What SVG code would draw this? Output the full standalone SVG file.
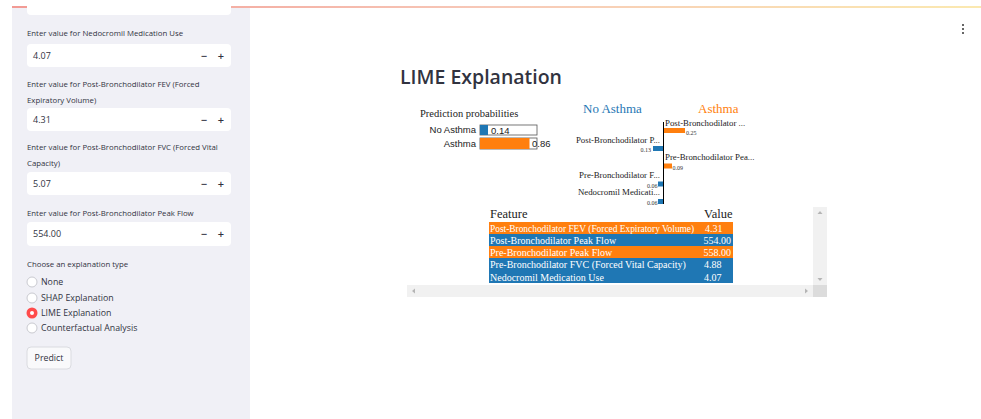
<svg xmlns="http://www.w3.org/2000/svg" width="981" height="419" viewBox="0 0 981 419">
<defs>
<linearGradient id="topbar" x1="0" y1="0" x2="1" y2="0">
<stop offset="0" stop-color="#f29a94"/>
<stop offset="0.5" stop-color="#f7c9b8"/>
<stop offset="1" stop-color="#fbe9b0"/>
</linearGradient>
<style>
.lbl{font-family:"Open Sans","Noto Sans",sans-serif;font-size:7.8px;fill:#31333f}
.val{font-family:"Open Sans","Noto Sans",sans-serif;font-size:9px;fill:#31333f}
.pm{font-family:"Open Sans","Noto Sans",sans-serif;font-size:11px;fill:#31333f;font-weight:600}
.box{fill:#ffffff;stroke:none}
.rad{font-family:"Open Sans","Noto Sans",sans-serif;font-size:8.8px;fill:#31333f}
.circ{fill:#ffffff;stroke:#c9cad0;stroke-width:1}
.ser{font-family:"Liberation Serif","Times New Roman",serif;fill:#222}
.tw{font-family:"Liberation Serif","Times New Roman",serif;font-size:10px;fill:#ffffff}
.tw2{font-family:"Liberation Serif","Times New Roman",serif;font-size:9.4px;fill:#ffffff}
.small{font-family:"Liberation Serif","Times New Roman",serif;font-size:6px;fill:#333}
.feat{font-family:"Liberation Serif","Times New Roman",serif;font-size:8.8px;fill:#222}
.blue{fill:#1f77b4}
.orange{fill:#ff7f0e}
</style>
</defs>
<rect x="0" y="0" width="981" height="419" fill="#ffffff"/>
<!-- sidebar -->
<g id="sidebar">
<rect x="12" y="8" width="238" height="411" fill="#f0f0f6"/>
<rect x="12" y="6" width="969" height="2" fill="url(#topbar)"/>
<rect class="box" x="27" y="-6" width="204" height="21" rx="4"/>
<text class="lbl" x="27" y="36">Enter value for Nedocromil Medication Use</text>
<rect class="box" x="27" y="44" width="204" height="23" rx="4"/>
<text class="val" x="33" y="59">4.07</text>
<text class="pm" x="204" y="60" text-anchor="middle">−</text>
<text class="pm" x="221" y="60" text-anchor="middle">+</text>
<text class="lbl" x="27" y="87">Enter value for Post-Bronchodilator FEV (Forced</text>
<text class="lbl" x="27" y="103">Expiratory Volume)</text>
<rect class="box" x="27" y="108" width="204" height="23" rx="4"/>
<text class="val" x="33" y="123">4.31</text>
<text class="pm" x="204" y="124" text-anchor="middle">−</text>
<text class="pm" x="221" y="124" text-anchor="middle">+</text>
<text class="lbl" x="27" y="150">Enter value for Post-Bronchodilator FVC (Forced Vital</text>
<text class="lbl" x="27" y="166">Capacity)</text>
<rect class="box" x="27" y="172" width="204" height="23" rx="4"/>
<text class="val" x="33" y="187">5.07</text>
<text class="pm" x="204" y="188" text-anchor="middle">−</text>
<text class="pm" x="221" y="188" text-anchor="middle">+</text>
<text class="lbl" x="27" y="216">Enter value for Post-Bronchodilator Peak Flow</text>
<rect class="box" x="27" y="222" width="204" height="24" rx="4"/>
<text class="val" x="33" y="237">554.00</text>
<text class="pm" x="204" y="238" text-anchor="middle">−</text>
<text class="pm" x="221" y="238" text-anchor="middle">+</text>
<text class="lbl" x="27" y="267">Choose an explanation type</text>
<circle class="circ" cx="32" cy="282" r="5"/>
<text class="rad" x="41" y="285">None</text>
<circle class="circ" cx="32" cy="298" r="5"/>
<text class="rad" x="41" y="301">SHAP Explanation</text>
<circle cx="32" cy="313" r="5.5" fill="#ff4b4b"/>
<circle cx="32" cy="313" r="2" fill="#ffffff"/>
<text class="rad" x="41" y="316">LIME Explanation</text>
<circle class="circ" cx="32" cy="328" r="5"/>
<text class="rad" x="41" y="331">Counterfactual Analysis</text>
<rect x="27" y="347" width="44" height="22" rx="4" fill="#f9f9fb" stroke="#dadbe0" stroke-width="1"/>
<text class="rad" x="49" y="361" text-anchor="middle">Predict</text>
</g>
<!-- menu -->
<g id="menu" fill="#333">
<circle cx="963" cy="25" r="1"/>
<circle cx="963" cy="29" r="1"/>
<circle cx="963" cy="33" r="1"/>
</g>
<g id="title">
<text x="400" y="84" font-family="'Open Sans','Noto Sans',sans-serif" font-size="19.5px" font-weight="600" fill="#31333f" textLength="162" lengthAdjust="spacingAndGlyphs">LIME Explanation</text>
</g>
<!-- prediction probabilities -->
<g id="pred-probs">
<text class="ser" x="420" y="117" font-size="10.5px">Prediction probabilities</text>
<text x="476" y="133" text-anchor="end" font-family="'Liberation Sans',Arial,sans-serif" font-size="9.5px" fill="#222">No Asthma</text>
<rect x="480" y="125" width="57" height="10" fill="#fff" stroke="#555" stroke-width="0.8"/>
<rect x="480" y="125" width="8" height="10" class="blue"/>
<text x="491" y="133.5" font-family="'Liberation Sans',Arial,sans-serif" font-size="9.5px" fill="#222">0.14</text>
<text x="476" y="147" text-anchor="end" font-family="'Liberation Sans',Arial,sans-serif" font-size="9.5px" fill="#222">Asthma</text>
<rect x="480" y="138" width="57" height="11" fill="#fff" stroke="#555" stroke-width="0.8"/>
<rect x="480" y="138" width="49.5" height="11" class="orange"/>
<text x="532" y="147" font-family="'Liberation Sans',Arial,sans-serif" font-size="9.5px" fill="#222">0.86</text>
</g>
<!-- explanation chart -->
<g id="lime-chart">
<text x="583" y="113" font-family="'Liberation Serif',serif" font-size="13px" fill="#1f77b4">No Asthma</text>
<text x="698" y="113" font-family="'Liberation Serif',serif" font-size="13px" fill="#ff7f0e">Asthma</text>
<line x1="663.5" y1="122" x2="663.5" y2="204" stroke="#000" stroke-width="1"/>
<text class="feat" x="665" y="126">Post-Bronchodilator ...</text>
<rect class="orange" x="664" y="128" width="21" height="5"/>
<text class="small" x="686" y="135">0.25</text>
<text class="feat" x="660" y="143" text-anchor="end">Post-Bronchodilator P...</text>
<rect class="blue" x="653" y="146" width="10" height="5"/>
<text class="small" x="651" y="152" text-anchor="end">0.13</text>
<text class="feat" x="665" y="160">Pre-Bronchodilator Pea...</text>
<rect class="orange" x="664" y="163.5" width="8" height="5"/>
<text class="small" x="672.5" y="169.5">0.09</text>
<text class="feat" x="660" y="178" text-anchor="end">Pre-Bronchodilator F...</text>
<rect class="blue" x="658" y="181.5" width="5" height="5"/>
<text class="small" x="657.5" y="187.5" text-anchor="end">0.06</text>
<text class="feat" x="660" y="195" text-anchor="end">Nedocromil Medicati...</text>
<rect class="blue" x="658" y="199" width="5" height="5"/>
<text class="small" x="657.5" y="204.5" text-anchor="end">0.06</text>
</g>
<!-- feature table -->
<g id="feature-table">
<text class="ser" x="490" y="218" font-size="12.5px" fill="#111">Feature</text>
<text class="ser" x="704" y="218" font-size="12.5px" fill="#111">Value</text>
<rect class="orange" x="489" y="222" width="244" height="12"/>
<rect class="blue" x="489" y="234" width="244" height="12"/>
<rect class="orange" x="489" y="246" width="244" height="12"/>
<rect class="blue" x="489" y="258" width="244" height="13"/>
<rect class="blue" x="489" y="271" width="244" height="12"/>
<text class="tw2" x="490" y="231.5">Post-Bronchodilator FEV (Forced Expiratory Volume)</text>
<text class="tw" x="705" y="231.5">4.31</text>
<text class="tw" x="490" y="243.5">Post-Bronchodilator Peak Flow</text>
<text class="tw" x="731" y="243.5" text-anchor="end">554.00</text>
<text class="tw" x="490" y="255.5">Pre-Bronchodilator Peak Flow</text>
<text class="tw" x="731" y="255.5" text-anchor="end">558.00</text>
<text class="tw" x="490" y="268">Pre-Bronchodilator FVC (Forced Vital Capacity)</text>
<text class="tw" x="704" y="268">4.88</text>
<text class="tw" x="490" y="280.5">Nedocromil Medication Use</text>
<text class="tw" x="704" y="280.5">4.07</text>
</g>
<!-- scrollbars -->
<g id="scrollbars">
<rect x="813" y="207" width="14" height="78" fill="#f1f1f1"/>
<polygon points="817.5,214 822.5,214 820,211" fill="#b5b5b5"/>
<polygon points="817.5,278 822.5,278 820,281" fill="#b5b5b5"/>
<rect x="407" y="285" width="406" height="12" fill="#f1f1f1"/>
<polygon points="415,288.5 415,293.5 412,291" fill="#b5b5b5"/>
<polygon points="805,288.5 805,293.5 808,291" fill="#b5b5b5"/>
<rect x="813" y="285" width="14" height="12" fill="#dcdcdc"/>
</g>
</svg>
